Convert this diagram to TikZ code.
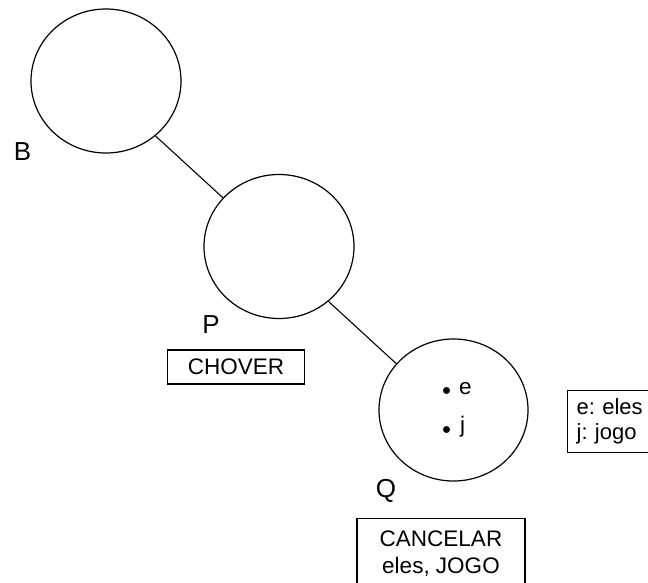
\documentclass[tikz,border=0pt]{standalone}
\usepackage{fontspec}
\setmainfont{Liberation Sans}
\usetikzlibrary{shapes.geometric}
\frenchspacing
\begin{document}
\begin{tikzpicture}[x=1pt,y=-1pt,
  world/.style={draw, ellipse, line width=1.2pt, minimum width=150pt, minimum height=144pt, inner sep=0pt},
  link/.style={line width=1.1pt},
  worldname/.style={font=\fontsize{26}{30}\selectfont, inner sep=0pt},
  txt/.style={font=\fontsize{22.5}{27}\selectfont\frenchspacing},
  lab/.style={draw, line width=1.3pt, txt},
  pt/.style={circle, fill, inner sep=0pt, minimum size=7pt},
  atom/.style={txt, anchor=west, inner sep=0pt}]
\useasboundingbox (0,0) rectangle (648,583);

% worlds
\node[world] (B) at (106,81) {};
\node[world] (P) at (279,246.5) {};
\node[world, minimum width=149pt, minimum height=142pt] (Q) at (453.5,410) {};

% accessibility links
\draw[link] (B.-48) -- (P.139);
\draw[link] (P.-48) -- (Q.141);

% world names
\node[worldname] (nB) at (22.5,152) {B};
\node[worldname] (nP) at (211,325) {P};
\node[worldname] (nQ) at (386,491) {Q};

% entities in Q
\node[pt] (de) at (446.5,390.5) {};
\node[pt] (dj) at (446.5,429.5) {};
\node[atom] (te) at (459,389) {e};
\node[atom] (tj) at (460,427) {j};

% predicate boxes
\node[lab, minimum width=137pt, minimum height=34pt, inner sep=0pt] (chover) at (236,367) {CHOVER};
\node[lab, anchor=north, minimum width=168pt, align=center, inner ysep=12pt] (cancelar) at (441,518) {CANCELAR\\eles, JOGO};

% legend
\node[lab, anchor=north west, align=left, text width=85pt, minimum height=62pt, inner xsep=9pt, inner ysep=4pt,
      font=\fontsize{22}{25}\selectfont\frenchspacing] (legend) at (567,390) {e: eles\\j: jogo};
\end{tikzpicture}
\end{document}
